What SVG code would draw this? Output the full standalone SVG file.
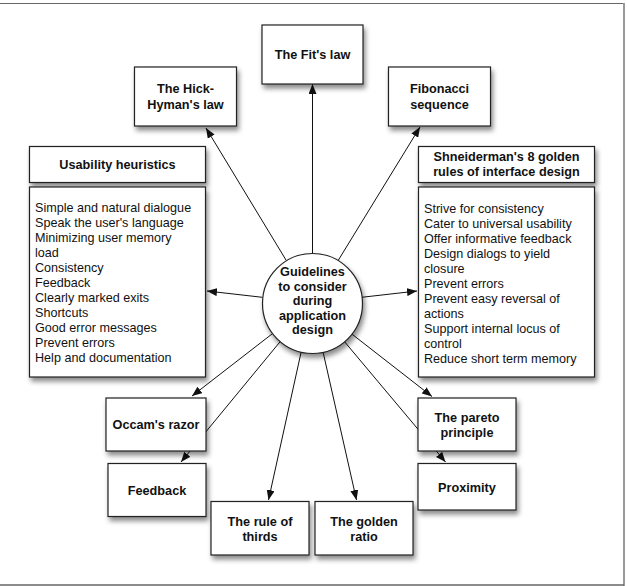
<svg xmlns="http://www.w3.org/2000/svg" width="627" height="586" viewBox="0 0 627 586">
<defs>
<style>
.box{fill:#fff;stroke:#222;stroke-width:1.2;filter:url(#sh)}
.lbl{font-family:"Liberation Sans",Arial,sans-serif;font-weight:bold;font-size:12.7px;fill:#111;text-anchor:middle}
.lst{font-family:"Liberation Sans",Arial,sans-serif;font-size:12.6px;fill:#111}
.con line{stroke:#111;stroke-width:1;marker-end:url(#ah)}
</style>
<filter id="sh" x="-20%" y="-20%" width="140%" height="140%">
<feDropShadow dx="2" dy="4" stdDeviation="2.5" flood-color="#000" flood-opacity="0.45"/>
</filter>
<marker id="ah" markerUnits="userSpaceOnUse" markerWidth="11" markerHeight="8" refX="10" refY="4" orient="auto">
<path d="M0,0 L10,4 L0,8 z" fill="#111"/>
</marker>
</defs>
<rect width="627" height="586" fill="#fff"/>
<g id="frame" fill="none">
<line x1="0" y1="3.5" x2="624" y2="3.5" stroke="#666" stroke-width="1.2"/>
<line x1="624" y1="3" x2="624" y2="586" stroke="#999" stroke-width="2"/>
<line x1="0" y1="585" x2="624" y2="585" stroke="#666" stroke-width="1.5"/>
</g>
<g id="connectors" class="con">
<line x1="312.5" y1="253" x2="312.5" y2="84"/>
<line x1="286.1" y1="260.2" x2="206" y2="128"/>
<line x1="338.2" y1="260.4" x2="420" y2="127"/>
<line x1="262.3" y1="297.3" x2="207" y2="291"/>
<line x1="361.7" y1="297.3" x2="417" y2="291"/>
<line x1="272.5" y1="333.6" x2="192" y2="396"/>
<line x1="280.2" y1="341.6" x2="181" y2="462"/>
<line x1="301.2" y1="351.8" x2="268.5" y2="500"/>
<line x1="323" y1="351.8" x2="356.5" y2="500"/>
<line x1="351.4" y1="333.7" x2="432" y2="396.5"/>
<line x1="344.2" y1="341.3" x2="445.5" y2="462"/>
</g>
<g id="center">
<circle cx="312.5" cy="303.5" r="50" class="box"/>
<text class="lbl" x="312.5"><tspan x="312.5" y="276">Guidelines</tspan><tspan x="312.5" y="290.5">to consider</tspan><tspan x="312.5" y="305">during</tspan><tspan x="312.5" y="319.5">application</tspan><tspan x="312.5" y="334">design</tspan></text>
</g>
<g id="fits">
<rect class="box" x="262" y="25" width="101" height="59"/>
<text class="lbl" x="312.5" y="59">The Fit's law</text>
</g>
<g id="hick">
<rect class="box" x="134.5" y="67" width="102" height="59"/>
<text class="lbl"><tspan x="185.5" y="93">The Hick-</tspan><tspan x="185.5" y="108.5">Hyman's law</tspan></text>
</g>
<g id="fibonacci">
<rect class="box" x="388.5" y="67" width="102" height="59"/>
<text class="lbl"><tspan x="439.5" y="93">Fibonacci</tspan><tspan x="439.5" y="108.5">sequence</tspan></text>
</g>
<g id="usability-title">
<rect class="box" x="29.5" y="146.5" width="176" height="36"/>
<text class="lbl" x="117.5" y="169">Usability heuristics</text>
</g>
<g id="usability-list">
<rect class="box" x="29.5" y="187" width="176" height="190"/>
<text class="lst"><tspan x="35" y="212">Simple and natural dialogue</tspan><tspan x="35" y="227">Speak the user's language</tspan><tspan x="35" y="242">Minimizing user memory</tspan><tspan x="35" y="257">load</tspan><tspan x="35" y="272">Consistency</tspan><tspan x="35" y="287">Feedback</tspan><tspan x="35" y="302">Clearly marked exits</tspan><tspan x="35" y="317">Shortcuts</tspan><tspan x="35" y="332">Good error messages</tspan><tspan x="35" y="347">Prevent errors</tspan><tspan x="35" y="362">Help and documentation</tspan></text>
</g>
<g id="shneiderman-title">
<rect class="box" x="418.5" y="146.5" width="176" height="36"/>
<text class="lbl"><tspan x="506.5" y="161">Shneiderman's 8 golden</tspan><tspan x="506.5" y="176">rules of interface design</tspan></text>
</g>
<g id="shneiderman-list">
<rect class="box" x="418.5" y="187" width="176" height="190"/>
<text class="lst"><tspan x="424" y="212.5">Strive for consistency</tspan><tspan x="424" y="227.5">Cater to universal usability</tspan><tspan x="424" y="242.5">Offer informative feedback</tspan><tspan x="424" y="257.5">Design dialogs to yield</tspan><tspan x="424" y="272.5">closure</tspan><tspan x="424" y="287.5">Prevent errors</tspan><tspan x="424" y="302.5">Prevent easy reversal of</tspan><tspan x="424" y="317.5">actions</tspan><tspan x="424" y="332.5">Support internal locus of</tspan><tspan x="424" y="347.5">control</tspan><tspan x="424" y="362.5">Reduce short term memory</tspan></text>
</g>
<g id="occam">
<rect class="box" x="106" y="398" width="100" height="53"/>
<text class="lbl" x="156" y="429">Occam's razor</text>
</g>
<g id="feedback">
<rect class="box" x="108" y="463.5" width="98" height="53"/>
<text class="lbl" x="157" y="494.5">Feedback</text>
</g>
<g id="thirds">
<rect class="box" x="211" y="501.5" width="98" height="53.5"/>
<text class="lbl"><tspan x="260" y="526">The rule of</tspan><tspan x="260" y="540.5">thirds</tspan></text>
</g>
<g id="golden">
<rect class="box" x="315" y="501.5" width="98" height="53.5"/>
<text class="lbl"><tspan x="364" y="526">The golden</tspan><tspan x="364" y="540.5">ratio</tspan></text>
</g>
<g id="pareto">
<rect class="box" x="418" y="398" width="98" height="53"/>
<text class="lbl"><tspan x="467" y="422">The pareto</tspan><tspan x="467" y="437">principle</tspan></text>
</g>
<g id="proximity">
<rect class="box" x="418" y="463.5" width="98" height="46.5"/>
<text class="lbl" x="467" y="492">Proximity</text>
</g>
</svg>
